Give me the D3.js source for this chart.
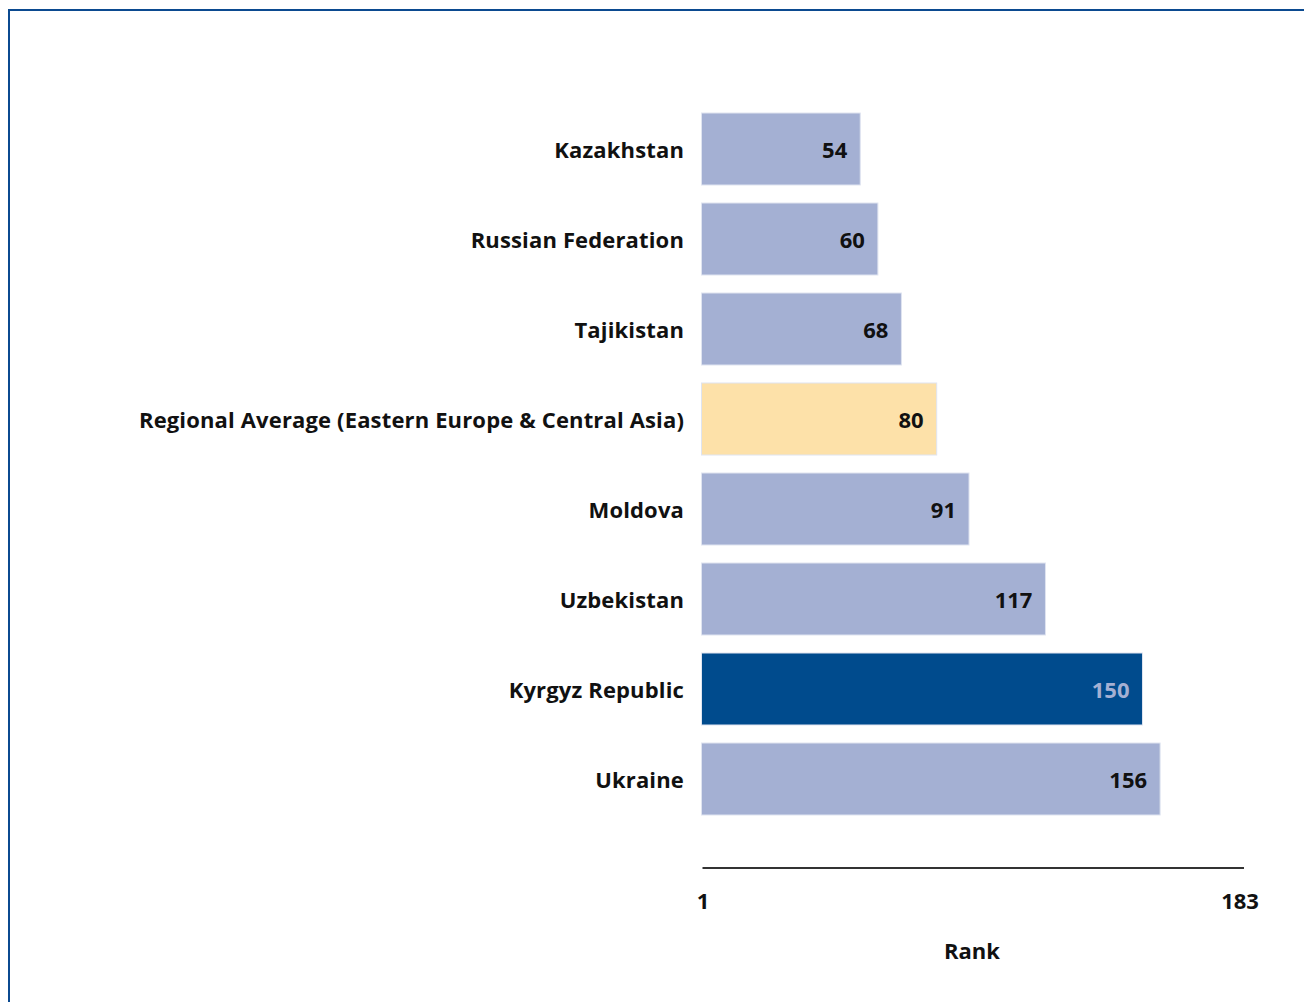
<!DOCTYPE html>
<html><head><meta charset="utf-8">
<script src="https://cdn.jsdelivr.net/npm/d3@7"></script>
<style>body{margin:0;background:#fff;} svg{display:block;font-family:"Open Sans",sans-serif;}</style>
</head><body>
<svg id="c" width="1304" height="1002"></svg>
<script>
const categories = ["Kazakhstan","Russian Federation","Tajikistan","Regional Average (Eastern Europe & Central Asia)","Moldova","Uzbekistan","Kyrgyz Republic","Ukraine"];
const values = [54,60,68,80,91,117,150,156];
const kinds = ["country","country","country","average","country","country","focus","country"];
const tickLabels = [1,183];
const axisTitle = "Rank";

const svg = d3.select("#c");
// frame
svg.append("rect").attr("x",9).attr("y",10).attr("width",1304).attr("height",1010)
  .attr("fill","none").attr("stroke","#0b4a90").attr("stroke-width",2);

const x = d3.scaleLinear().domain([0,183]).range([701.5,1239.5]);
const y = d3.scaleBand().domain(categories).range([104,824]).paddingInner(0.2).paddingOuter(0.1);
const fill = {country:"#a4b0d3", average:"#fde1a9", focus:"#004b8d"};
const lab = {country:"#111", average:"#111", focus:"#a4b0d3"};

const g = svg.append("g");
g.selectAll("rect.bar").data(categories).join("rect").attr("class","bar")
  .attr("x",x(0)).attr("y",d=>y(d))
  .attr("width",(d,i)=>x(values[i])-x(0)).attr("height",y.bandwidth())
  .attr("fill",(d,i)=>fill[kinds[i]]).attr("stroke","#dfe4f0").attr("stroke-width",1);

g.selectAll("text.val").data(categories).join("text").attr("class","val")
  .attr("x",(d,i)=>x(values[i])-13).attr("y",d=>y(d)+y.bandwidth()/2+1)
  .attr("dy","0.35em").attr("text-anchor","end")
  .attr("font-size",22).attr("font-weight",700)
  .attr("fill",(d,i)=>lab[kinds[i]]).text((d,i)=>values[i]);

g.selectAll("text.cat").data(categories).join("text").attr("class","cat")
  .attr("x",684).attr("y",d=>y(d)+y.bandwidth()/2+1)
  .attr("dy","0.35em").attr("text-anchor","end")
  .attr("font-size",22).attr("font-weight",700).attr("fill","#111")
  .attr("letter-spacing","0.15px")
  .text(d=>d);

// axis
svg.append("line").attr("x1",x(0)+1).attr("x2",1244).attr("y1",868).attr("y2",868)
  .attr("stroke","#333").attr("stroke-width",2);
svg.selectAll("text.tick").data(tickLabels).join("text").attr("class","tick")
  .attr("x",(d,i)=> i===0 ? 703 : 1240).attr("y",901).attr("dy","0.35em")
  .attr("text-anchor","middle").attr("font-size",22).attr("font-weight",700).attr("fill","#111")
  .text(d=>d);
svg.append("text").attr("x",972).attr("y",951).attr("dy","0.35em").attr("text-anchor","middle")
  .attr("font-size",22).attr("font-weight",700).attr("fill","#111").text(axisTitle);
</script>
</body></html>
